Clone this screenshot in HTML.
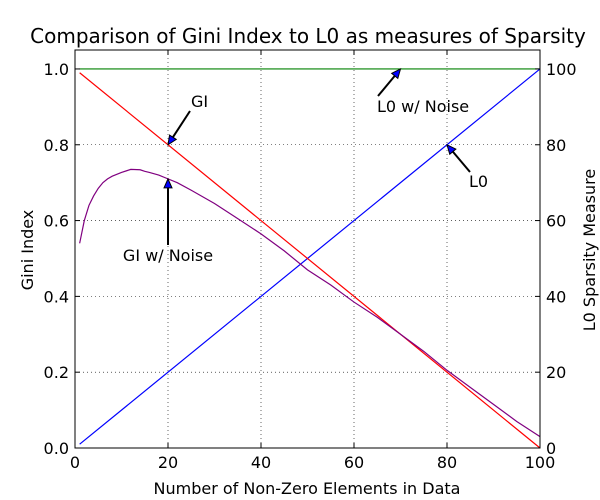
<!DOCTYPE html>
<html><head><meta charset="utf-8"><style>
body{margin:0;background:#fff;}
svg{display:block;font-family:"DejaVu Sans","Liberation Sans",sans-serif;}
</style></head><body>
<svg id="chart" width="600" height="500"></svg>
<script>
const xTicks=[0,20,40,60,80,100];
const yTicksLeft=[0.0,0.2,0.4,0.6,0.8,1.0];
const yTicksRight=[0,20,40,60,80,100];
const giX=[1,100];
const giY=[0.99,0.0];
const l0X=[1,100];
const l0Y=[1,100];
const l0NoiseX=[1,100];
const l0NoiseY=[100,100];
const giNoiseX=[1,2,3,4,5,6,7,8,10,12,14,15,16,18,20,22,25,30,35,40,45,50,55,60,65,70,75,80,85,90,95,100];
const giNoiseY=[0.54,0.60,0.64,0.665,0.685,0.70,0.71,0.717,0.727,0.735,0.734,0.73,0.727,0.72,0.71,0.70,0.68,0.645,0.605,0.565,0.52,0.47,0.43,0.385,0.345,0.30,0.255,0.205,0.16,0.115,0.07,0.03];

const L=75,R=540,T=50,B=448;
const xs=v=>L+(v/100)*(R-L);
const yl=v=>B-(v/1.05)*(B-T);
const yr=v=>B-(v/105)*(B-T);
const NS="http://www.w3.org/2000/svg";
const svg=document.getElementById('chart');
function mk(t,a,p){const e=document.createElementNS(NS,t);for(const k in a)e.setAttribute(k,a[k]);(p||svg).appendChild(e);return e;}

xTicks.forEach(v=>{if(v>0&&v<100){const g=mk('line',{x1:xs(v),x2:xs(v),y1:T,y2:B,stroke:'#000','stroke-dasharray':'1,3','stroke-width':0.6});

}});
yTicksLeft.forEach(v=>{if(v>0){const g=mk('line',{x1:L,x2:R,y1:yl(v),y2:yl(v),stroke:'#000','stroke-dasharray':'1,3','stroke-width':0.6});

}});

function line(xa,ya,sc,color,name){
  const pts=xa.map((x,i)=>xs(x)+','+sc(ya[i])).join(' ');
  const p=mk('polyline',{points:pts,fill:'none',stroke:color,'stroke-width':1.2});
  
  
}
line(l0NoiseX,l0NoiseY,yr,'#008000','l0-noise-line');
line(l0X,l0Y,yr,'#0000ff','l0-line');
line(giX,giY,yl,'#ff0000','gi-line');
line(giNoiseX,giNoiseY,yl,'#800080','gi-noise-line');

const fr=mk('rect',{x:L,y:T,width:R-L,height:B-T,fill:'none',stroke:'#000','stroke-width':1});



function txt(x,y,s,size,anchor,name,extra){
  const e=mk('text',Object.assign({x:x,y:y,'font-size':size,'text-anchor':anchor||'middle',fill:'#000'},extra||{}));
  e.textContent=s;
  
  
  return e;
}
xTicks.forEach(v=>{
  mk('line',{x1:xs(v),x2:xs(v),y1:B,y2:B-5,stroke:'#000'});
  mk('line',{x1:xs(v),x2:xs(v),y1:T,y2:T+5,stroke:'#000'});
  txt(xs(v),B+20,String(v),16,'middle','x-tick-label');
});
yTicksLeft.forEach(v=>{
  mk('line',{x1:L,x2:L+5,y1:yl(v),y2:yl(v),stroke:'#000'});
  txt(L-6,yl(v)+6,v.toFixed(1),16,'end','y-left-tick-label');
});
yTicksRight.forEach(v=>{
  mk('line',{x1:R,x2:R-5,y1:yr(v),y2:yr(v),stroke:'#000'});
  txt(R+6,yr(v)+6,String(v),16,'start','y-right-tick-label');
});
txt(308,43,'Comparison of Gini Index to L0 as measures of Sparsity',20,'middle','chart-title');
txt(307,494,'Number of Non-Zero Elements in Data',16,'middle','x-axis-title');
txt(33,250,'Gini Index',16,'middle','y-left-axis-title',{transform:'rotate(-90 33 250)'});
txt(595,250,'L0 Sparsity Measure',16,'middle','y-right-axis-title',{transform:'rotate(-90 595 250)'});

function arrow(x1,y1,x2,y2,fillc,name){
  const g=mk('g',{});
  
  
  const a=Math.atan2(y2-y1,x2-x1),h=9,w=4;
  const bx=x2-h*Math.cos(a),by=y2-h*Math.sin(a);
  mk('line',{x1:x1,y1:y1,x2:bx,y2:by,stroke:'#000','stroke-width':2},g);
  const p=[[x2,y2],[bx+w*Math.sin(a),by-w*Math.cos(a)],[bx-w*Math.sin(a),by+w*Math.cos(a)]];
  mk('polygon',{points:p.map(q=>q.join(',')).join(' '),fill:fillc,stroke:'#000','stroke-width':1},g);
}
arrow(190,111,xs(20),yl(0.8),'#0000ff','gi-arrow');
txt(191,107,'GI',16,'start','gi-annotation');
arrow(168,245,xs(20),yl(0.71),'#0000ff','gi-noise-arrow');
txt(168,261,'GI w/ Noise',16,'middle','gi-noise-annotation');
arrow(378,96,xs(70),yr(100),'#0000ff','l0-noise-arrow');
txt(377,112,'L0 w/ Noise',16,'start','l0-noise-annotation');
arrow(470,172,xs(80),yr(80),'#0000ff','l0-arrow');
txt(469,187,'L0',16,'start','l0-annotation');
</script>
</body></html>
